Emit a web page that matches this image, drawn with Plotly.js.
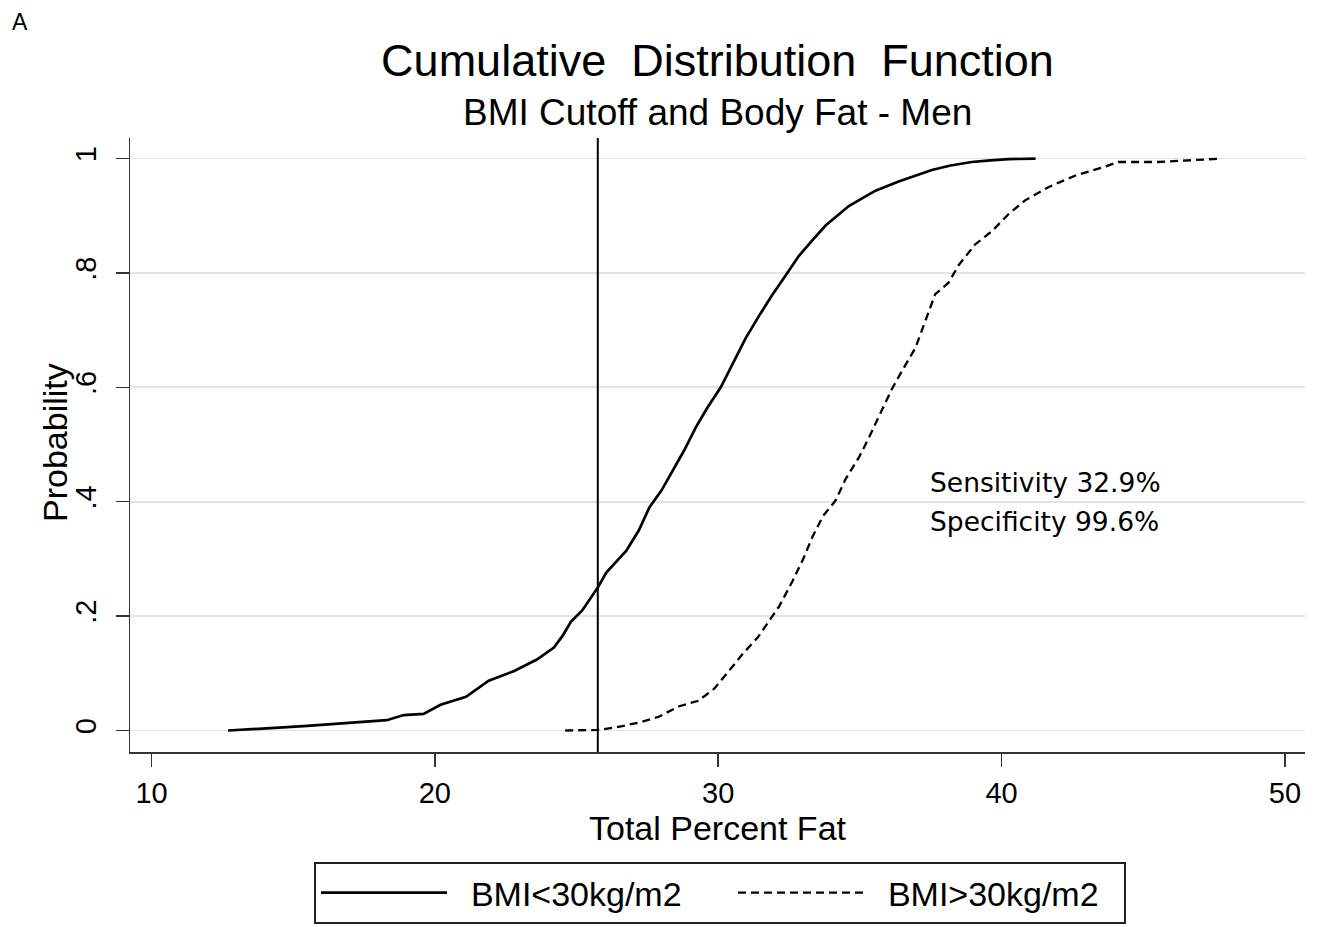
<!DOCTYPE html>
<html>
<head>
<meta charset="utf-8">
<script src="https://cdn.plot.ly/plotly-3.0.1.min.js"></script>
<style>
  html, body { margin: 0; padding: 0; background: #fff; }
  #chart { width: 1321px; height: 927px; }
</style>
</head>
<body>
<div id="chart"></div>
<script>
// ---- Data ----
const seriesNames = ["\u00a0\u00a0BMI&lt;30kg/m2", "\u00a0\u00a0BMI&gt;30kg/m2"];

const fatUnder30 = [12.7, 13.6, 14.5, 15.5, 16.4, 17.4, 18.3, 18.9, 19.6, 20.2, 21.1, 21.9, 22.8, 23.6, 24.2, 24.5, 24.8, 25.2, 25.75, 26.05, 26.75, 27.2, 27.57, 28.0, 28.39, 28.8, 29.21, 29.6, 30.09, 30.5, 30.97, 31.44, 31.91, 32.3, 32.85, 33.32, 33.79, 34.61, 35.55, 36.37, 37.54, 38.2, 38.95, 39.6, 40.25, 41.2];
const probUnder30 = [0.0, 0.003, 0.005, 0.008, 0.011, 0.014, 0.018, 0.027, 0.029, 0.045, 0.059, 0.087, 0.104, 0.124, 0.145, 0.165, 0.19, 0.21, 0.25, 0.276, 0.314, 0.35, 0.39, 0.42, 0.454, 0.49, 0.53, 0.563, 0.6, 0.64, 0.686, 0.725, 0.762, 0.79, 0.83, 0.857, 0.883, 0.917, 0.944, 0.96, 0.98, 0.988, 0.994, 0.997, 0.999, 1.0];

const fatOver30 = [24.6, 25.74, 26.34, 27.22, 27.9, 28.6, 29.3, 29.86, 30.39, 30.9, 31.4, 32.15, 32.62, 33.0, 33.32, 33.7, 34.14, 34.5, 34.96, 35.3, 35.67, 36.14, 36.49, 36.96, 37.31, 37.66, 38.13, 38.49, 39.07, 39.66, 40.25, 40.83, 41.65, 42.59, 43.53, 44.12, 45.53, 46.7, 47.76];
const probOver30 = [0.0, 0.001, 0.005, 0.014, 0.024, 0.042, 0.052, 0.073, 0.105, 0.136, 0.163, 0.217, 0.261, 0.3, 0.338, 0.375, 0.402, 0.44, 0.477, 0.51, 0.549, 0.598, 0.629, 0.669, 0.716, 0.763, 0.783, 0.814, 0.85, 0.873, 0.903, 0.927, 0.95, 0.97, 0.984, 0.994, 0.994, 0.997, 1.0];

const bmiCutoffFat = 25.75;

const xTickVals = [10, 20, 30, 40, 50];
const xTickText = ["10", "20", "30", "40", "50"];
const yTickVals = [0, 0.2, 0.4, 0.6, 0.8, 1];
const yTickText = ["0", ".2", ".4", ".6", ".8", "1"];

const titleText = "Cumulative\u00a0 Distribution\u00a0 Function";
const subtitleText = "BMI Cutoff and Body Fat - Men";
const panelLabel = "A";
const statLines = ["Sensitivity 32.9%", "Specificity 99.6%"];
const xTitle = "Total Percent Fat";
const yTitle = "Probability";

// ---- Chart ----
const FONT = "Liberation Sans, Arial, sans-serif";
const NOTE_FONT = "DejaVu Sans, Open Sans, sans-serif";

const traces = [
  {
    x: fatUnder30, y: probUnder30, name: seriesNames[0],
    type: "scatter", mode: "lines",
    line: { color: "#000", width: 2.7 },
    legendwidth: 276
  },
  {
    x: fatOver30, y: probOver30, name: seriesNames[1],
    type: "scatter", mode: "lines",
    line: { color: "#000", width: 2.3, dash: "8px,5px" },
    legendwidth: 250
  }
];

const layout = {
  width: 1321, height: 927,
  margin: { l: 130, r: 16, t: 138, b: 175, autoexpand: false },
  paper_bgcolor: "#fff", plot_bgcolor: "#fff",
  font: { family: FONT, color: "#000" },
  title: {
    text: titleText,
    font: { family: FONT, size: 45, color: "#000" },
    x: 0.5, xref: "paper", y: 1 - 60 / 927, yref: "container", yanchor: "middle"
  },
  xaxis: {
    range: [9.24, 50.71],
    tickvals: xTickVals, ticktext: xTickText,
    ticks: "outside", ticklen: 13, tickwidth: 1.5, tickcolor: "#333",
    tickfont: { family: FONT, size: 29, color: "#000" },
    ticklabelstandoff: 2,
    showgrid: false, zeroline: false,
    showline: true, linecolor: "#333", linewidth: 1.5,
    title: { text: xTitle, font: { family: FONT, size: 34, color: "#000" }, standoff: 0 }
  },
  yaxis: {
    range: [-0.0376, 1.036],
    tickvals: yTickVals, ticktext: yTickText,
    tickangle: -90,
    ticks: "outside", ticklen: 13, tickwidth: 1.5, tickcolor: "#333",
    tickfont: { family: FONT, size: 29, color: "#000" },
    ticklabelstandoff: 8,
    showgrid: true, gridcolor: "#e4e4e4", gridwidth: 1.8,
    zeroline: false,
    showline: true, linecolor: "#333", linewidth: 1.5
  },
  showlegend: true,
  legend: {
    orientation: "h",
    x: (314 - 130) / 1175, xanchor: "left",
    y: (752 - 862) / 614, yanchor: "top",
    bordercolor: "#222", borderwidth: 2, bgcolor: "#fff",
    font: { family: FONT, size: 34, color: "#000" },
    itemwidth: 126, valign: "middle",
    itemclick: false, itemdoubleclick: false
  },
  shapes: [
    {
      type: "line", xref: "x", yref: "paper",
      x0: bmiCutoffFat, x1: bmiCutoffFat, y0: 0, y1: 1,
      line: { color: "#000", width: 2 }
    }
  ],
  annotations: [
    {
      text: subtitleText, xref: "paper", yref: "paper",
      x: 0.5, y: (752 - 113) / 614, xanchor: "center", yanchor: "middle",
      showarrow: false, font: { family: FONT, size: 37, color: "#000" }
    },
    {
      text: yTitle, xref: "paper", yref: "paper", textangle: -90,
      x: (55 - 130) / 1175, y: (752 - 443) / 614, xanchor: "center", yanchor: "middle",
      showarrow: false, font: { family: FONT, size: 34, color: "#000" }
    },
    {
      text: panelLabel, xref: "paper", yref: "paper",
      x: (10 - 130) / 1175, y: (752 - 22) / 614, xanchor: "left", yanchor: "middle",
      showarrow: false, font: { family: FONT, size: 23, color: "#000" }
    },
    {
      text: statLines[0], xref: "x", yref: "y",
      x: 37.4, y: 0.434, xanchor: "left", yanchor: "middle",
      showarrow: false, font: { family: NOTE_FONT, size: 26.5, color: "#000" }
    },
    {
      text: statLines[1], xref: "x", yref: "y",
      x: 37.4, y: 0.366, xanchor: "left", yanchor: "middle",
      showarrow: false, font: { family: NOTE_FONT, size: 26.5, color: "#000" }
    }
  ]
};

Plotly.newPlot("chart", traces, layout, { displayModeBar: false, staticPlot: true });
</script>
</body>
</html>
